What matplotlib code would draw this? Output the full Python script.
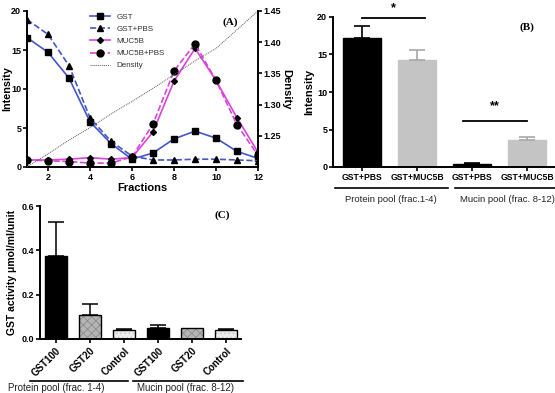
#!/usr/bin/env python3
# Three-panel figure: fraction profiles (A), pooled intensity (B), GST activity (C).
import matplotlib
matplotlib.use("Agg")
import matplotlib.pyplot as plt
import matplotlib.transforms as mtransforms

plt.rcParams["font.family"] = ["Liberation Sans", "DejaVu Sans"]
plt.rcParams["hatch.linewidth"] = 0.6

# --- Panel A data ---
fractions = [1, 2, 3, 4, 5, 6, 7, 8, 9, 10, 11, 12]
gst = [16.6, 14.7, 11.4, 5.8, 3.0, 1.0, 1.8, 3.6, 4.6, 3.7, 2.0, 1.1]
gst_pbs = [18.9, 17.0, 13.0, 6.3, 3.3, 1.4, 0.9, 0.9, 1.0, 1.0, 0.9, 0.8]
muc5b = [0.9, 0.9, 1.0, 1.2, 1.0, 1.2, 4.5, 11.0, 15.2, 11.1, 6.3, 1.9]
muc5b_pbs = [0.9, 0.8, 0.7, 0.5, 0.5, 1.3, 5.5, 12.3, 15.8, 11.1, 5.4, 1.5]
density = [1.200, 1.221, 1.243, 1.263, 1.285, 1.305, 1.326, 1.348, 1.370, 1.390, 1.420, 1.450]

# --- Panel B data ---
b_labels = ["GST+PBS", "GST+MUC5B", "GST+PBS", "GST+MUC5B"]
b_values = [17.2, 14.2, 0.4, 3.6]
b_errors = [1.6, 1.4, 0.1, 0.35]
b_groups = ["Protein pool (frac.1-4)", "Mucin pool (frac. 8-12)"]

# --- Panel C data ---
c_labels = ["GST100", "GST20", "Control", "GST100", "GST20", "Control"]
c_values = [0.375, 0.110, 0.040, 0.050, 0.048, 0.040]
c_errors = [0.155, 0.047, 0.003, 0.013, 0.0, 0.003]
c_groups = ["Protein pool (frac. 1-4)", "Mucin pool (frac. 8-12)"]

W, H = 555, 393
fig = plt.figure(figsize=(W / 100, H / 100), dpi=100)

def px_axes(left, top, right, bottom):
    return fig.add_axes([left / W, (H - bottom) / H, (right - left) / W, (bottom - top) / H])

def style(ax):
    ax.spines["top"].set_visible(False)
    ax.spines["right"].set_visible(False)
    for s in ("left", "bottom"):
        ax.spines[s].set_linewidth(1.4)
    ax.tick_params(width=1.2, length=3, labelsize=6.5, pad=1.2)
    for t in ax.get_xticklabels() + ax.get_yticklabels():
        t.set_fontweight("bold")

BLUE = "#4256c9"
MAG = "#d944d9"

# ================= Panel A =================
axA = px_axes(27, 11, 258, 167)
axA.plot(fractions, gst, color=BLUE, lw=1.2, marker="s", ms=5, mfc="black", mec="black", label="GST")
axA.plot(fractions, gst_pbs, color=BLUE, lw=1.2, ls="--", marker="^", ms=4.5, mfc="black", mec="black", label="GST+PBS")
axA.plot(fractions, muc5b, color=MAG, lw=1.2, marker="D", ms=3, mfc="black", mec="black", label="MUC5B")
axA.plot(fractions, muc5b_pbs, color=MAG, lw=1.2, ls="--", marker="o", ms=5, mfc="black", mec="black", label="MUC5B+PBS")
axA.set_xlim(1, 12)
axA.set_ylim(0, 20)
axA.set_xticks([2, 4, 6, 8, 10, 12])
axA.set_yticks([0, 5, 10, 15, 20])
axA.set_xlabel("Fractions", fontsize=8, fontweight="bold", labelpad=1)
axA.set_ylabel("Intensity", fontsize=7.8, fontweight="bold", va="center")
axA.yaxis.set_label_coords(-0.087, 0.5)
style(axA)

axD = axA.twinx()
dline, = axD.plot(fractions, density, color="#555555", lw=0.7, ls=(0, (1, 1)), label="Density")
axD.set_ylim(1.20, 1.45)
axD.set_yticks([1.25, 1.30, 1.35, 1.40, 1.45])
axD.set_yticklabels(["1.25", "1.30", "1.35", "1.40", "1.45"])
axD.spines["top"].set_visible(False)
axD.spines["left"].set_visible(False)
axD.spines["bottom"].set_visible(False)
axD.spines["right"].set_linewidth(1.4)
axD.tick_params(width=1.2, length=3, labelsize=6.5, pad=1.2)
for t in axD.get_yticklabels():
    t.set_fontweight("bold")
axD.set_ylabel("Density", fontsize=8, fontweight="bold", rotation=270, labelpad=7)

handles = axA.get_lines()[:4] + [dline]
leg = axA.legend(handles=handles, loc="upper left", bbox_to_anchor=(0.25, 1.02), frameon=False,
                 fontsize=5.8, handlelength=2.4, labelspacing=0.55, borderpad=0.2, handletextpad=0.8)
for t in leg.get_texts():
    t.set_color("#333333")
axA.text(0.88, 0.93, "(A)", transform=axA.transAxes, fontsize=8, fontweight="bold",
         family=["Liberation Serif", "DejaVu Serif"], ha="center", va="center")

# ================= Panel B =================
axB = px_axes(333, 17, 560, 167)
xb = list(range(len(b_values)))
b_colors = ["black", "#c4c4c4", "black", "#c4c4c4"]
b_ecolors = ["black", "#a8a8a8", "black", "#a8a8a8"]
for x, v, e, c, ec in zip(xb, b_values, b_errors, b_colors, b_ecolors):
    axB.bar(x, v, width=0.69, color=c, edgecolor=c)
    axB.errorbar(x, v, yerr=[[0], [e]], fmt="none", ecolor=ec, elinewidth=1.2, capsize=6, capthick=1.2)
axB.set_xlim(-0.53, 3.6)
axB.set_ylim(0, 20)
axB.set_yticks([0, 5, 10, 15, 20])
axB.set_xticks(xb)
axB.set_xticklabels(b_labels)
axB.set_ylabel("Intensity", fontsize=8, fontweight="bold", labelpad=2)
style(axB)
axB.tick_params(axis="x", labelsize=6.2)
for t in axB.get_xticklabels():
    t.set_fontweight("bold")
axB.plot([0, 1.15], [19.8, 19.8], color="black", lw=1.3, clip_on=False)
axB.text(0.57, 20.4, "*", ha="center", va="bottom", fontsize=9, fontweight="bold")
axB.plot([1.84, 3.0], [6.1, 6.1], color="black", lw=1.3, clip_on=False)
axB.text(2.42, 7.3, "**", ha="center", va="bottom", fontsize=9, fontweight="bold")
axB.text(3.0, 18.6, "(B)", fontsize=8, fontweight="bold",
         family=["Liberation Serif", "DejaVu Serif"], ha="center", va="center")
trB = mtransforms.blended_transform_factory(axB.transData, axB.transAxes)
axB.plot([-0.49, 1.56], [-0.14, -0.14], color="black", lw=1.2, transform=trB, clip_on=False)
axB.plot([1.69, 3.7], [-0.14, -0.14], color="black", lw=1.2, transform=trB, clip_on=False)
axB.text(0.53, -0.22, b_groups[0], transform=trB, ha="center", va="center", fontsize=6.8, color="#222222")
axB.text(1.78, -0.22, b_groups[1], transform=trB, ha="left", va="center", fontsize=6.8, color="#222222")

# ================= Panel C =================
axC = px_axes(40, 206, 241, 339)
xc = list(range(len(c_values)))
c_face = ["black", "#b5b5b5", "#ececec", "black", "#b5b5b5", "#ececec"]
c_hatch = [None, "xxxx", "....", None, "xxxx", "...."]
c_hcol = ["black", "#8c8c8c", "#c8c8c8", "black", "#8c8c8c", "#c8c8c8"]
for x, v, e, fc, h, hc in zip(xc, c_values, c_errors, c_face, c_hatch, c_hcol):
    axC.bar(x, v, width=0.66, color=fc, edgecolor=hc, hatch=h, linewidth=0)
    axC.bar(x, v, width=0.66, fill=False, edgecolor="black", linewidth=1.0)
    if e > 0:
        axC.errorbar(x, v, yerr=[[0], [e]], fmt="none", ecolor="black", elinewidth=1.1, capsize=6, capthick=1.1)
axC.set_xlim(-0.47, 5.44)
axC.set_ylim(0, 0.6)
axC.set_yticks([0.0, 0.2, 0.4, 0.6])
axC.set_yticklabels(["0.0", "0.2", "0.4", "0.6"])
axC.set_xticks(xc)
axC.set_xticklabels(c_labels, rotation=45, ha="right", rotation_mode="anchor")
axC.set_ylabel("GST activity \u03bcmol/ml/unit", fontsize=7.5, fontweight="bold", labelpad=3)
style(axC)
axC.tick_params(axis="x", labelsize=7, pad=2)
for t in axC.get_xticklabels():
    t.set_fontweight("bold")
axC.text(4.9, 0.56, "(C)", fontsize=8, fontweight="bold",
         family=["Liberation Serif", "DejaVu Serif"], ha="center", va="center")
trC = mtransforms.blended_transform_factory(axC.transData, axC.transAxes)
axC.plot([-0.76, 2.12], [-0.316, -0.316], color="black", lw=1.2, transform=trC, clip_on=False)
axC.plot([2.26, 5.5], [-0.316, -0.316], color="black", lw=1.2, transform=trC, clip_on=False)
axC.text(0.0, -0.37, c_groups[0], transform=trC, ha="center", va="center", fontsize=7, color="#222222")
axC.text(3.82, -0.37, c_groups[1], transform=trC, ha="center", va="center", fontsize=7, color="#222222")

fig.savefig("out.png", dpi=100)
